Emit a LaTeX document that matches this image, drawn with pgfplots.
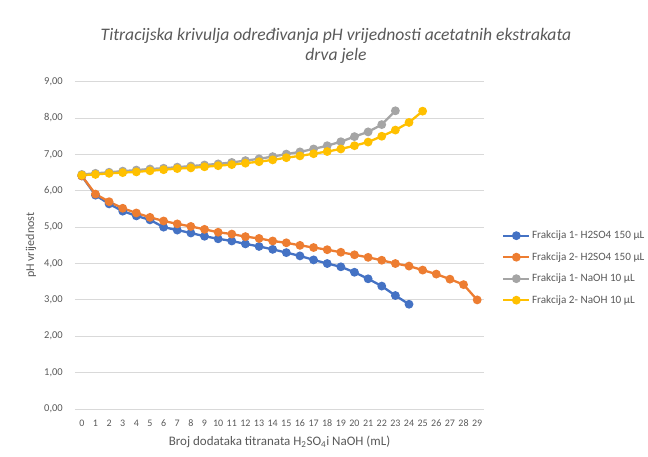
\documentclass[border=0pt]{standalone}
\usepackage{pgfplots}
\pgfplotsset{compat=1.18}
\usepackage{fontspec}
\setmainfont{Carlito}
\definecolor{cblue}{HTML}{4472C4}
\definecolor{corange}{HTML}{ED7D31}
\definecolor{cgray}{HTML}{A5A5A5}
\definecolor{cyellow}{HTML}{FFC000}
\definecolor{txt}{HTML}{595959}
\definecolor{gridc}{HTML}{D9D9D9}
\begin{document}
\begin{tikzpicture}
\path[use as bounding box] (-75pt,-48pt) rectangle (573pt,409pt);
\begin{axis}[
  scale only axis,
  width=409pt, height=327.3pt,
  xmin=-0.5, xmax=29.5, ymin=0, ymax=9,
  xtick={0,...,29}, ytick={0,1,...,9},
  axis line style={draw=none},
  major tick style={draw=none},
  xmajorgrids=false, ymajorgrids=true,
  major grid style={draw=gridc, line width=0.9pt},
  /pgf/number format/assume math mode=true,
  yticklabel style={/pgf/number format/.cd, fixed, fixed zerofill, precision=2, use comma, /tikz/.cd,
    font=\fontsize{10.5}{12}\selectfont, text=txt, anchor=east, inner sep=0pt, xshift=-12pt},
  xticklabel style={font=\fontsize{10}{11}\selectfont, text=txt, anchor=base, inner sep=0pt, yshift=-17.5pt},
  xlabel={Broj dodataka titranata H\textsubscript{2}SO\textsubscript{4}i NaOH (mL)},
  xlabel style={at={(axis description cs:0.5,-0.1)}, anchor=center, font=\fontsize{13}{14}\selectfont, text=txt},
  ylabel={pH vrijednost},
  ylabel style={at={(axis description cs:-0.1076,0.5)}, anchor=center, font=\fontsize{12}{14}\selectfont, text=txt},
  every axis plot/.append style={line width=2.3pt, mark=*, mark size=3.2pt, mark options={solid}},
  legend style={at={(1,0.431)}, anchor=west, xshift=18pt, draw=none, fill=none, inner sep=0pt,
    font=\fontsize{11.2}{13}\selectfont, text=txt, row sep=7.5pt,
    nodes={inner sep=1.5pt, text height=8.5pt, text depth=2.5pt}},
  legend cell align=left,
  legend image code/.code={\draw[mark repeat=2, mark phase=2, #1] plot coordinates {(0pt,0pt) (13pt,0pt) (26pt,0pt)};},
]
\addplot[color=cblue] coordinates {
(0,6.41) (1,5.88) (2,5.64) (3,5.44) (4,5.31) (5,5.20) (6,5.00) (7,4.92) (8,4.84) (9,4.75)
(10,4.68) (11,4.62) (12,4.54) (13,4.47) (14,4.39) (15,4.30) (16,4.21) (17,4.10) (18,4.00) (19,3.91)
(20,3.76) (21,3.58) (22,3.38) (23,3.12) (24,2.88)};
\addlegendentry{Frakcija 1- H2SO4 150 µL}
\addplot[color=corange] coordinates {
(0,6.41) (1,5.91) (2,5.70) (3,5.52) (4,5.39) (5,5.27) (6,5.17) (7,5.09) (8,5.02) (9,4.94)
(10,4.86) (11,4.81) (12,4.74) (13,4.69) (14,4.62) (15,4.57) (16,4.50) (17,4.44) (18,4.38) (19,4.31)
(20,4.24) (21,4.17) (22,4.09) (23,4.00) (24,3.93) (25,3.82) (26,3.71) (27,3.57) (28,3.42) (29,3.00)};
\addlegendentry{Frakcija 2- H2SO4 150 µL}
\addplot[color=cgray] coordinates {
(0,6.45) (1,6.48) (2,6.51) (3,6.54) (4,6.57) (5,6.60) (6,6.62) (7,6.65) (8,6.68) (9,6.71)
(10,6.74) (11,6.78) (12,6.83) (13,6.88) (14,6.94) (15,7.01) (16,7.07) (17,7.15) (18,7.24) (19,7.35)
(20,7.49) (21,7.62) (22,7.82) (23,8.20)};
\addlegendentry{Frakcija 1- NaOH 10 µL}
\addplot[color=cyellow] coordinates {
(0,6.43) (1,6.45) (2,6.48) (3,6.50) (4,6.52) (5,6.55) (6,6.58) (7,6.61) (8,6.63) (9,6.66)
(10,6.69) (11,6.72) (12,6.76) (13,6.80) (14,6.85) (15,6.91) (16,6.96) (17,7.02) (18,7.08) (19,7.15)
(20,7.24) (21,7.34) (22,7.50) (23,7.67) (24,7.88) (25,8.19)};
\addlegendentry{Frakcija 2- NaOH 10 µL}
\end{axis}
\node[align=center, text=txt, font=\fontsize{17.6}{20}\selectfont\itshape] at (261pt,363pt)
  {Titracijska krivulja određivanja pH vrijednosti acetatnih ekstrakata\\drva jele};
\end{tikzpicture}
\end{document}
